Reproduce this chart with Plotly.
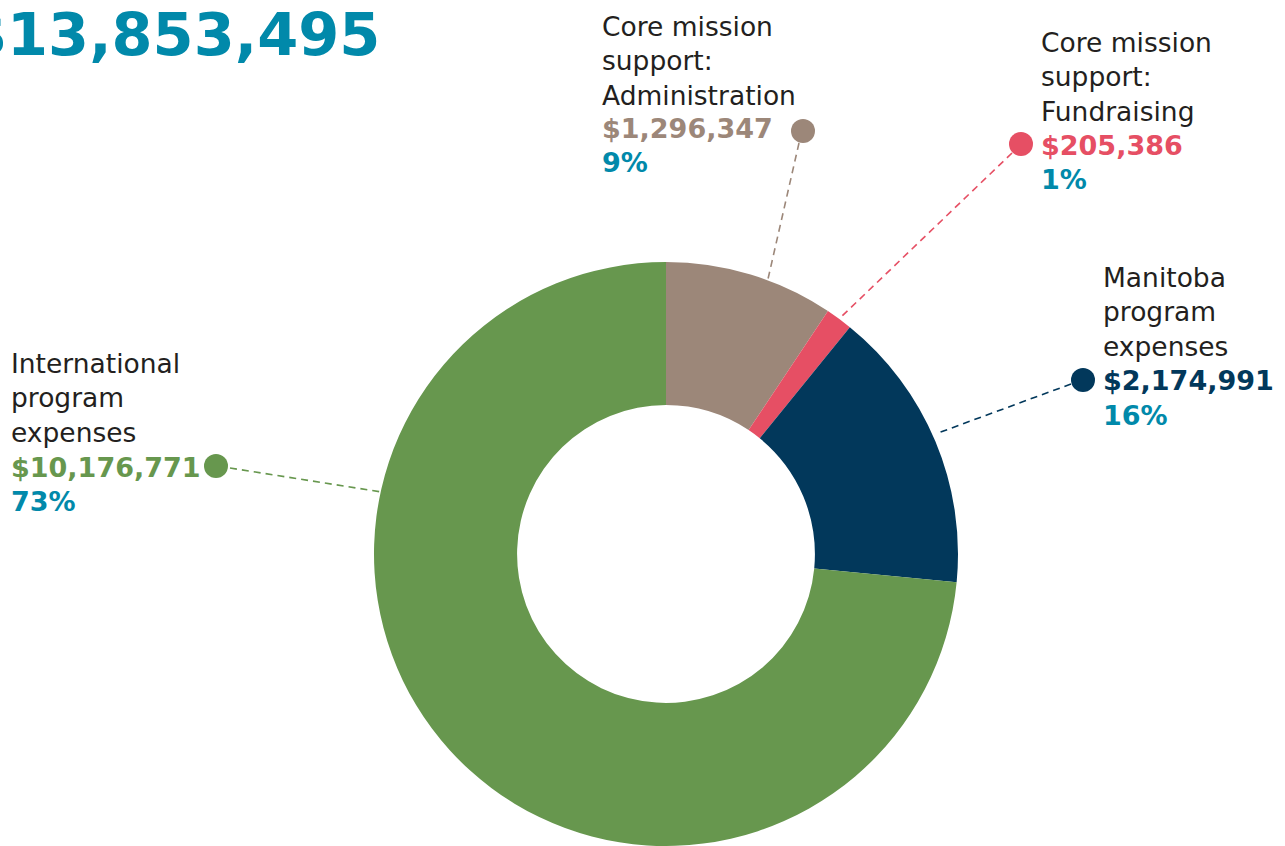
import plotly.graph_objects as go

# ---- data ----
categories = ["Core mission support: Administration",
              "Core mission support: Fundraising",
              "Manitoba program expenses",
              "International program expenses"]
label_lines = ["Core mission<br>support:<br>Administration",
               "Core mission<br>support:<br>Fundraising",
               "Manitoba<br>program<br>expenses",
               "International<br>program<br>expenses"]
amounts = [1296347, 205386, 2174991, 10176771]
colors = ["#9C8779", "#E64F64", "#02385B", "#67974E"]

# ---- layout helpers (pixel positions of the callouts) ----
W, H = 1285, 846
TEAL = "#0189AA"
INK = "#231F20"
REG = "DejaVu Sans"
BOLD = "DejaVu Sans"

# left x, first label baseline, amount baseline, pct baseline, dot centre, line start/end
callouts = [
    dict(x=601, b1=36, ba=138, bp=172, dot=(803, 131), start=(799, 143), end=(768, 279)),
    dict(x=1040, b1=52, ba=155, bp=189, dot=(1021, 144), start=(1012, 153), end=(840, 318)),
    dict(x=1102, b1=287, ba=390, bp=425, dot=(1083, 380), start=(1071, 384), end=(938, 433)),
    dict(x=10, b1=373, ba=477, bp=511, dot=(216, 466), start=(230, 468), end=(388, 493)),
]

def px(x):
    return x / W

def py(y):
    return 1 - y / H

total = sum(amounts)
pcts = [f"{round(v / total * 100)}%" for v in amounts]

fig = go.Figure()
fig.add_trace(go.Pie(
    labels=categories, values=amounts,
    marker=dict(colors=colors, line=dict(width=0)),
    hole=0.51, sort=False, direction="clockwise", rotation=0,
    textinfo="none", showlegend=False,
    domain=dict(x=[373 / W, 959 / W], y=[0, 1 - 262 / H]),
))

annotations = []
shapes = []

def text_center(b1, n, s, spacing=1.3, asc=0.928, desc=0.236):
    L = spacing * s
    return b1 + ((n - 1) * L - asc * s + desc * s) / 2

LS, AS = 26.5, 27
for c, lab, amt, pct, col in zip(callouts, label_lines, amounts, pcts, colors):
    n = lab.count("<br>") + 1
    annotations.append(dict(
        text=lab, x=px(c["x"]), y=py(text_center(c["b1"], n, LS)),
        xref="paper", yref="paper", xanchor="left", yanchor="middle",
        align="left", showarrow=False, borderpad=0,
        font=dict(family=REG, size=LS, color=INK)))
    annotations.append(dict(
        text=f"<b>${amt:,}</b>", x=px(c["x"]), y=py(text_center(c["ba"], 1, AS)),
        xref="paper", yref="paper", xanchor="left", yanchor="middle",
        showarrow=False, borderpad=0,
        font=dict(family=BOLD, size=AS, color=col)))
    annotations.append(dict(
        text=f"<b>{pct}</b>", x=px(c["x"]), y=py(text_center(c["bp"], 1, AS)),
        xref="paper", yref="paper", xanchor="left", yanchor="middle",
        showarrow=False, borderpad=0,
        font=dict(family=BOLD, size=AS, color=TEAL)))
    r = 12
    dx, dy = c["dot"]
    shapes.append(dict(type="circle", xref="paper", yref="paper",
                       x0=px(dx - r), x1=px(dx + r), y0=py(dy + r), y1=py(dy - r),
                       fillcolor=col, line=dict(width=0)))
    shapes.append(dict(type="line", xref="paper", yref="paper",
                       x0=px(c["start"][0]), y0=py(c["start"][1]),
                       x1=px(c["end"][0]), y1=py(c["end"][1]),
                       line=dict(color=col, width=1.6, dash="7px,5px")))

# total heading (partly cut at the left edge, as in the source)
TS = 59
annotations.append(dict(
    text=f"<b>${total:,}</b>", x=px(381), y=py(text_center(55, 1, TS)),
    xref="paper", yref="paper", xanchor="right", yanchor="middle",
    showarrow=False, borderpad=0,
    font=dict(family=BOLD, size=TS, color=TEAL)))

fig.update_layout(
    width=W, height=H, margin=dict(l=0, r=0, t=0, b=0),
    paper_bgcolor="white", plot_bgcolor="white",
    annotations=annotations, shapes=shapes,
)

fig.write_html("out.html", config={"displayModeBar": False},
               post_script="document.body.style.margin='0';document.body.style.overflow='hidden';")
